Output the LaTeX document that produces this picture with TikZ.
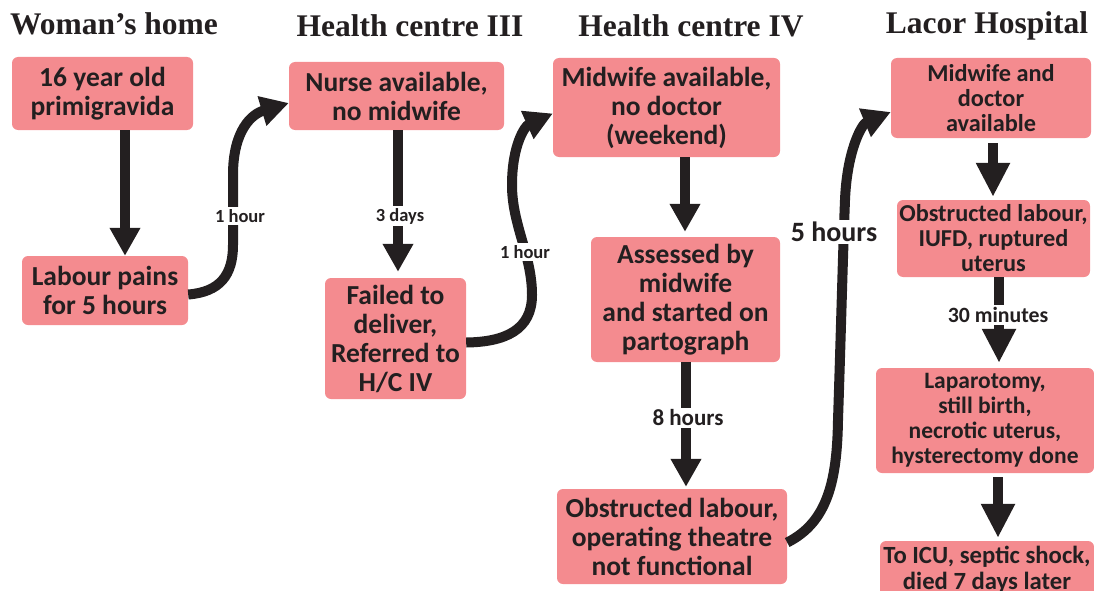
\documentclass[tikz,border=0pt]{standalone}
\usepackage{fontspec}
\setmainfont{Liberation Serif}
\newfontfamily\boxfont{Carlito}
\usetikzlibrary{arrows.meta}
\definecolor{boxpink}{HTML}{F48B8F}
\definecolor{ink}{HTML}{231F20}
\tikzset{
 stage/.style={fill=boxpink, rounded corners=6pt, align=center, text=ink, inner sep=0pt,
   font=\boxfont\bfseries\fontsize{27.5}{29}\selectfont},
 lacor/.style={font=\boxfont\bfseries\fontsize{24.3}{25}\selectfont},
 lacorb/.style={font=\boxfont\bfseries\fontsize{23.5}{25}\selectfont},
 head/.style={font=\bfseries\fontsize{31.5}{33}\selectfont, text=ink},
 arr/.style={draw=ink, line width=10pt, -{Triangle[width=29pt,length=28pt]}},
 bigarr/.style={draw=ink, line width=10pt, -{Triangle[width=32pt,length=34pt]}},
 lbl/.style={fill=white, text=ink, inner sep=2pt, font=\boxfont\bfseries\fontsize{18.5}{19}\selectfont},
}
\begin{document}
\begin{tikzpicture}[x=1pt,y=-1pt]
\clip (0,0) rectangle (1094,591);
\useasboundingbox (0,0) rectangle (1094,591);

% headings
\node[head] (h1) at (114,24) {Woman’s home};
\node[head] (h2) at (410,26) {Health centre III};
\node[head] (h3) at (691,26) {Health centre IV};
\node[head] (h4) at (987,26) {Lacor Hospital};

% boxes
\node[stage, minimum width=181pt, minimum height=73pt] (b1) at (102.5,93.5) {16 year old\\primigravida};
\node[stage, minimum width=166pt, minimum height=69pt] (b2) at (105,290.5) {Labour pains\\for 5 hours};
\node[stage, minimum width=215pt, minimum height=68pt] (b3) at (396.5,96) {Nurse available,\\no midwife};
\node[stage, minimum width=141pt, minimum height=121pt] (b4) at (395.5,338.5) {Failed to\\deliver,\\Referred to\\H/C IV};
\node[stage, minimum width=227pt, minimum height=99pt] (b5) at (666.5,107.5) {Midwife available,\\no doctor\\(weekend)};
\node[stage, minimum width=189pt, minimum height=125pt] (b6) at (685.5,299.5) {Assessed by\\midwife\\and started on\\partograph};
\node[stage, minimum width=230pt, minimum height=95pt] (b7) at (672,536.5) {Obstructed labour,\\operating theatre\\not functional};
\node[stage, lacor, minimum width=200pt, minimum height=80pt] (b8) at (991,98) {Midwife and\\doctor\\available};
\node[stage, lacor, minimum width=193pt, minimum height=77pt] (b9) at (993.5,238.5) {Obstructed labour,\\IUFD, ruptured\\uterus};
\node[stage, lacorb, minimum width=218pt, minimum height=105pt] (b10) at (985,420.5) {Laparotomy,\\still birth,\\necrotic uterus,\\hysterectomy done};
\node[stage, lacor, font=\boxfont\bfseries\fontsize{24.7}{26}\selectfont, minimum width=214pt, minimum height=58pt] (b11) at (987,570) {To ICU, septic shock,\\died 7 days later};

% stem x positions
\coordinate (x12) at (125,0);
\coordinate (x34) at (398,0);
\coordinate (x56) at (685,0);
\coordinate (x67) at (686,0);
\coordinate (x89) at (993,0);
\coordinate (x910) at (999,0);
\coordinate (x1011) at (998,0);

% straight arrows
\draw[arr] (b1.south -| x12) -- (b2.north -| x12);
\draw[arr] (b3.south -| x34) -- ([yshift=6pt]b4.north -| x34);
\draw[arr] (b5.south -| x56) -- ([yshift=5pt]b6.north -| x56);
\draw[arr] (b6.south -| x67) -- ([yshift=2pt]b7.north -| x67);
\draw[bigarr] ([yshift=-5pt]b8.south -| x89) -- ([yshift=3pt]b9.north -| x89);
\draw[bigarr] (b9.south -| x910) -- ([yshift=5pt]b10.north -| x910);
\draw[bigarr] ([yshift=-4pt]b10.south -| x1011) -- ([yshift=3pt]b11.north -| x1011);

% curved arrows
\draw[arr] ([yshift=-4pt]b2.east) .. controls (220,292) and (233,275) .. (233,245)
  -- (233,175) .. controls (233,130) and (252,114) .. ([yshift=-7pt]b3.west);
\draw[arr] ([yshift=-4pt]b4.east) .. controls (505,342) and (532,330) .. (532,295)
  .. controls (532,255) and (512,225) .. (512,185) .. controls (512,145) and (525,126) .. ([yshift=-6pt]b5.west);
\draw[arr] ([yshift=-6pt]b7.east) .. controls (828,522) and (837,480) .. (838,420)
  .. controls (841,330) and (843,250) .. (845,200) .. controls (847,150) and (862,124) .. ([yshift=-14pt]b8.west);

% labels
\node[lbl] (l1) at (240,216) {1 hour};
\node[lbl] (l2) at (400,216) {3 days};
\node[lbl] (l3) at (525,252) {1 hour};
\node[lbl, font=\boxfont\bfseries\fontsize{23}{24}\selectfont] (l4) at (688,418) {8 hours};
\node[lbl, font=\boxfont\bfseries\fontsize{28}{29}\selectfont] (l5) at (834,232) {5 hours};
\node[lbl, font=\boxfont\bfseries\fontsize{21.8}{22}\selectfont] (l6) at (998,315) {30 minutes};
\end{tikzpicture}
\end{document}
